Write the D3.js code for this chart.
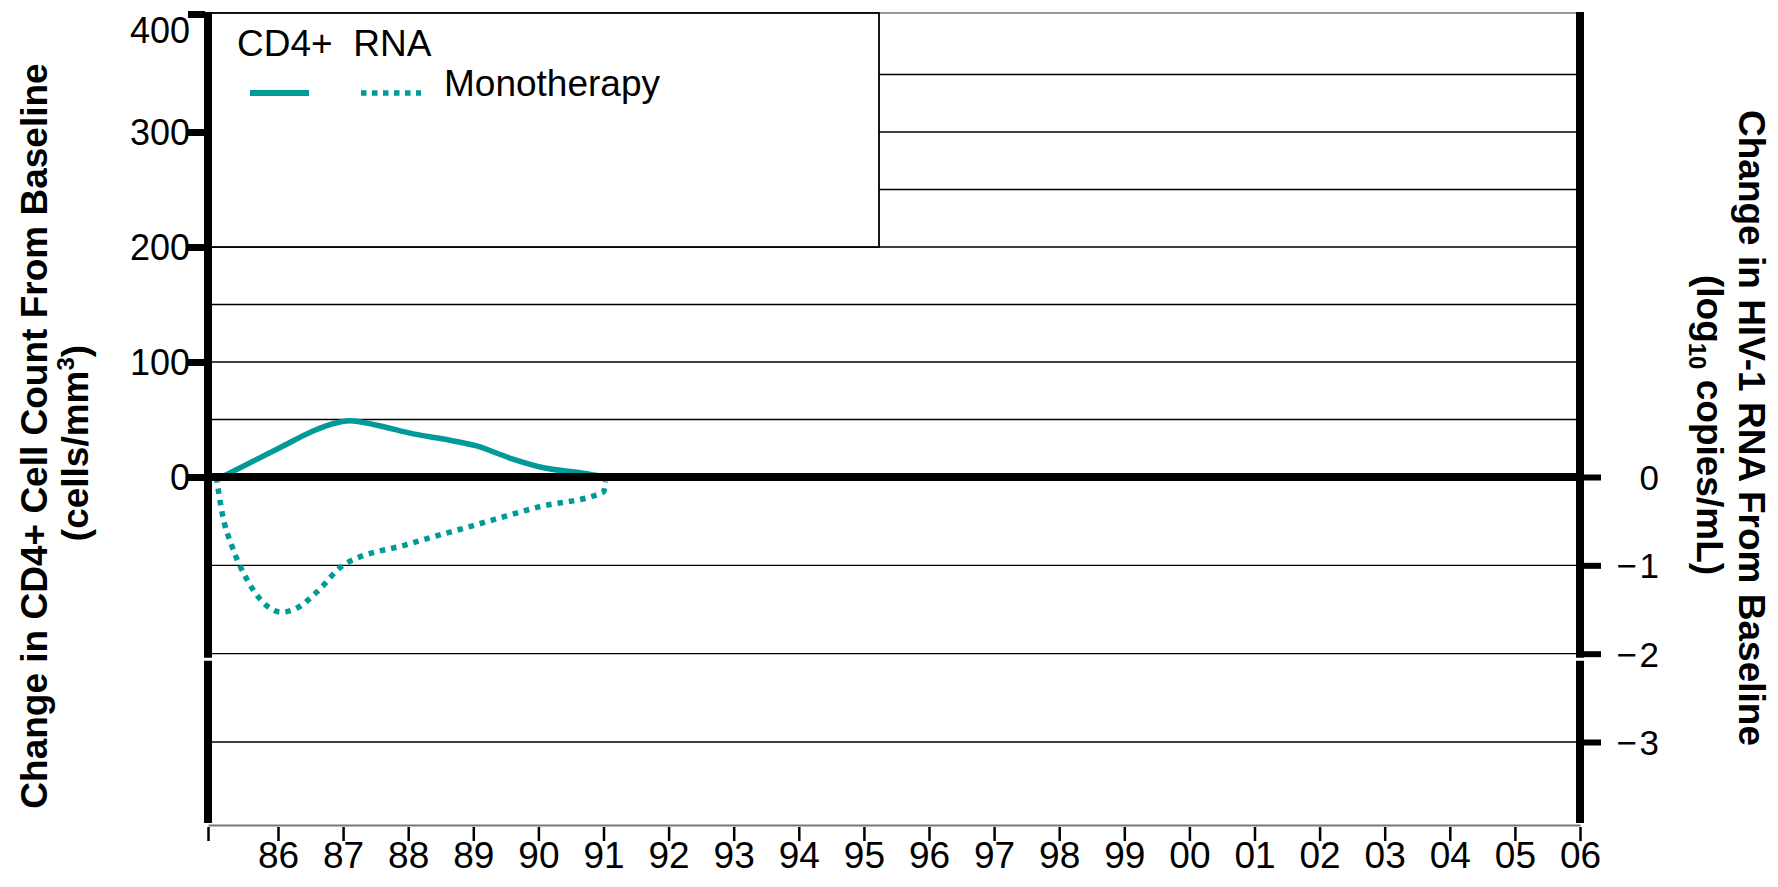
<!DOCTYPE html>
<html>
<head>
<meta charset="utf-8">
<script src="https://cdn.jsdelivr.net/npm/d3@7"></script>
<style>
  html, body { margin: 0; padding: 0; background: #fff; }
  svg { display: block; font-family: "Liberation Sans", Arial, sans-serif; }
</style>
</head>
<body>
<svg id="chart" width="1778" height="887"></svg>
<script>
// ---- data ----
const yearTicks = [85,86,87,88,89,90,91,92,93,94,95,96,97,98,99,100,101,102,103,104,105,106];
const cd4Ticks = [0,100,200,300,400];
const cd4Grid = [50,100,150,200,250,300,350];
const rnaTicks = [0,-1,-2,-3];
const rnaGrid = [-1,-2,-3];

const cd4Years  = [85.2, 86.08, 86.54, 86.8, 87.1, 87.52, 88.08, 88.54, 89.05, 89.56, 90.1, 90.69, 91.0];
const cd4Change = [0, 27, 40, 45.5, 49, 45, 37.5, 33, 27, 16.5, 7.8, 3.3, 0.3];

const rnaYears  = [85.12, 85.2, 85.35, 85.55, 85.8, 86.05, 86.3, 86.6, 87.0, 88.0, 89.0, 90.0, 91.0, 91.03];
const rnaChange = [0, -0.4, -0.8, -1.15, -1.43, -1.53, -1.48, -1.3, -1.0, -0.76, -0.55, -0.34, -0.17, -0.05];

const leftTitle = "Change in CD4+ Cell Count From Baseline";
const rightTitle = "Change in HIV-1 RNA From Baseline";
const legendHeader = "CD4+  RNA";
const legendLabel = "Monotherapy";

// ---- layout ----
const teal = "#009a98";
const svg = d3.select("#chart");
const x = d3.scaleLinear().domain([85, 86, 106]).range([208, 278, 1580]);
const yL = d3.scaleLinear().domain([0, 400]).range([477, 17]);
const yR = d3.scaleLinear().domain([0, -3]).range([477, 742]);
const bottomY = 823;
const L = x(85), R = x(106);
const topY = yL(400) - 4;

// gridlines
svg.append("g").selectAll("line").data(cd4Grid).join("line")
  .attr("x1", L).attr("x2", R).attr("y1", d => yL(d)).attr("y2", d => yL(d))
  .attr("stroke", "#000").attr("stroke-width", 1.4);
svg.append("g").selectAll("line").data(rnaGrid).join("line")
  .attr("x1", L).attr("x2", R).attr("y1", d => yR(d)).attr("y2", d => yR(d))
  .attr("stroke", "#000").attr("stroke-width", 1.4);
svg.append("line").attr("x1", L).attr("x2", R).attr("y1", topY).attr("y2", topY)
  .attr("stroke", "#999").attr("stroke-width", 2);

// legend box
const lg = svg.append("g");
lg.append("rect").attr("x", L).attr("y", topY).attr("width", 879 - L).attr("height", yL(200) - topY)
  .attr("fill", "#fff").attr("stroke", "#000").attr("stroke-width", 1.8);
lg.append("text").attr("x", 237).attr("y", 56).attr("font-size", 37).style("white-space", "pre").text(legendHeader);
lg.append("text").attr("x", 444).attr("y", 96).attr("font-size", 37).text(legendLabel);
lg.append("line").attr("x1", 250).attr("x2", 309).attr("y1", 93).attr("y2", 93)
  .attr("stroke", teal).attr("stroke-width", 6);
lg.append("line").attr("x1", 361).attr("x2", 421).attr("y1", 93).attr("y2", 93)
  .attr("stroke", teal).attr("stroke-width", 5.5).attr("stroke-dasharray", "5.5,5.5");

// x axis
const xAxis = svg.append("g").attr("transform", `translate(0,${bottomY + 2})`)
  .call(d3.axisBottom(x).tickValues(yearTicks).tickSizeOuter(0).tickSizeInner(16).tickPadding(1)
    .tickFormat(d => d === 85 ? "" : String(d % 100).padStart(2, "0")));
xAxis.select(".domain").attr("stroke", "#777").attr("stroke-width", 2);
xAxis.selectAll(".tick line").attr("stroke", "#000").attr("stroke-width", 2.5).attr("y1", 2);
xAxis.selectAll(".tick text").attr("font-size", 37).attr("font-family", "Liberation Sans, Arial, sans-serif").attr("fill", "#000");

// lines
const cd4Data = cd4Years.map((v, i) => [v, cd4Change[i]]);
const rnaData = rnaYears.map((v, i) => [v, rnaChange[i]]);
svg.append("path").datum(rnaData)
  .attr("d", d3.line().x(d => x(d[0])).y(d => yR(d[1])).curve(d3.curveMonotoneX))
  .attr("fill", "none").attr("stroke", teal).attr("stroke-width", 5.5).attr("stroke-dasharray", "5.5,6");
svg.append("path").datum(cd4Data)
  .attr("d", d3.line().x(d => x(d[0])).y(d => yL(d[1])).curve(d3.curveMonotoneX))
  .attr("fill", "none").attr("stroke", teal).attr("stroke-width", 5.5);

// zero line
svg.append("line").attr("x1", L).attr("x2", R).attr("y1", yL(0)).attr("y2", yL(0))
  .attr("stroke", "#000").attr("stroke-width", 8);

// vertical axes (with a small break)
const gap = yR(-2);
[[topY - 1, gap + 4], [gap + 7, bottomY]].forEach(s => {
  svg.append("line").attr("x1", L).attr("x2", L).attr("y1", s[0]).attr("y2", s[1])
    .attr("stroke", "#000").attr("stroke-width", 8);
  svg.append("line").attr("x1", R).attr("x2", R).attr("y1", s[0]).attr("y2", s[1])
    .attr("stroke", "#000").attr("stroke-width", 8);
});
const yAxisL = svg.append("g").attr("transform", `translate(${L - 3},0)`)
  .call(d3.axisLeft(yL).tickValues(cd4Ticks).tickSizeOuter(0).tickSizeInner(17));
yAxisL.select(".domain").remove();
yAxisL.selectAll(".tick line").attr("stroke", "#000").attr("stroke-width", 7)
  .attr("transform", d => d === 400 ? `translate(0,${topY - yL(400) + 1})` : null);
yAxisL.selectAll(".tick text").attr("font-size", 36).attr("font-family", "Liberation Sans, Arial, sans-serif").attr("fill", "#000")
  .attr("x", -15).attr("dy", d => d === 400 ? "0.7em" : "0.36em");

const yAxisR = svg.append("g").attr("transform", `translate(${R + 3},0)`)
  .call(d3.axisRight(yR).tickValues(rnaTicks).tickSizeOuter(0).tickSizeInner(18)
    .tickFormat(d => d === 0 ? "0" : "\u2212\u200A" + Math.abs(d)));
yAxisR.select(".domain").remove();
yAxisR.selectAll(".tick line").attr("stroke", "#000").attr("stroke-width", 6);
yAxisR.selectAll(".tick text").attr("font-size", 35).attr("font-family", "Liberation Sans, Arial, sans-serif").attr("fill", "#000")
  .attr("text-anchor", "end").attr("x", 76).attr("dy", "0.36em");

// titles
svg.append("text").attr("transform", "translate(47,436) rotate(-90)")
  .attr("text-anchor", "middle").attr("font-size", 37).attr("font-weight", "bold").text(leftTitle);
const lt2 = svg.append("text").attr("transform", "translate(88,443) rotate(-90)")
  .attr("text-anchor", "middle").attr("font-size", 37).attr("font-weight", "bold");
lt2.append("tspan").text("(cells/mm");
lt2.append("tspan").attr("font-size", 24).attr("dy", -14).text("3");
lt2.append("tspan").attr("dy", 14).text(")");

svg.append("text").attr("transform", "translate(1739,428) rotate(90)")
  .attr("text-anchor", "middle").attr("font-size", 37).attr("font-weight", "bold").text(rightTitle);
const rt2 = svg.append("text").attr("transform", "translate(1697,425) rotate(90)")
  .attr("text-anchor", "middle").attr("font-size", 37).attr("font-weight", "bold");
rt2.append("tspan").text("(log");
rt2.append("tspan").attr("font-size", 24).attr("dy", 8).text("10");
rt2.append("tspan").attr("dy", -8).text(" copies/mL)");
</script>
</body>
</html>
